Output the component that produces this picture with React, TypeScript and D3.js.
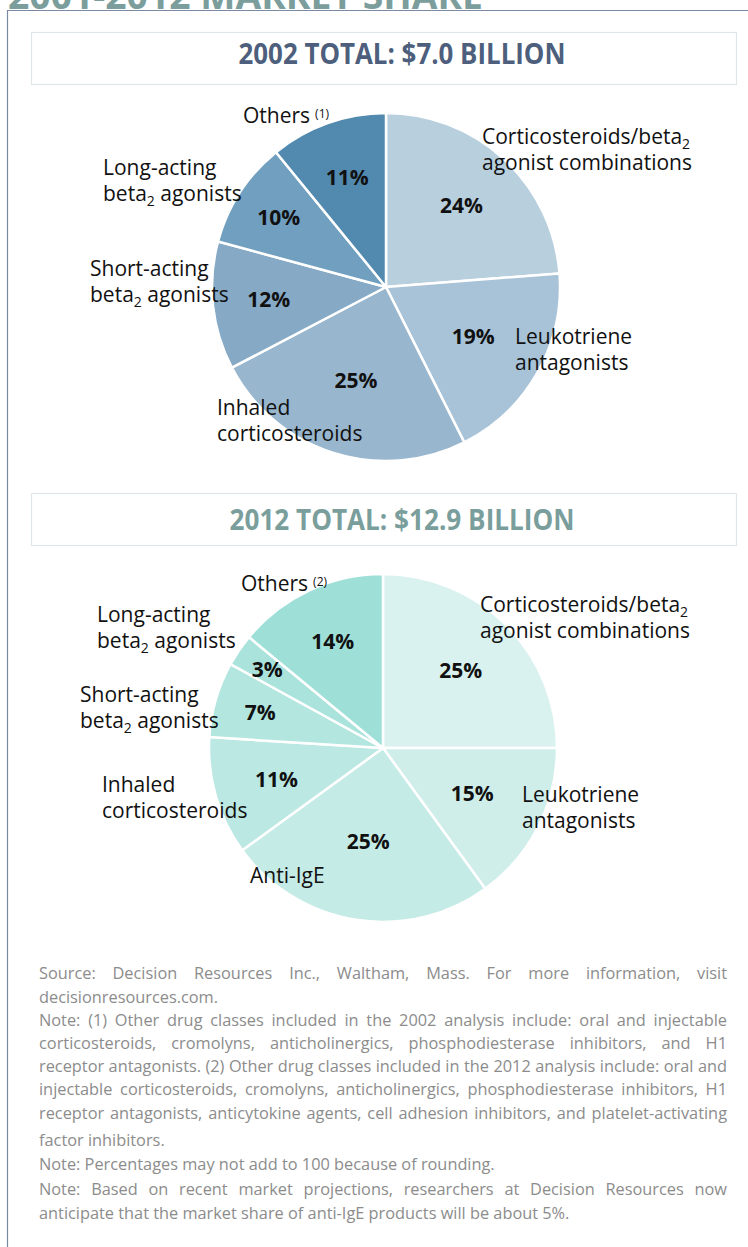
import React, { useEffect, useRef } from "react";
import * as d3 from "d3";

// ---------- DATA ----------
const mainTitle = "2001-2012 MARKET SHARE";
const panelTitles = ["2002 TOTAL: $7.0 BILLION", "2012 TOTAL: $12.9 BILLION"];

const categories2002 = [
  "Corticosteroids/beta2 agonist combinations",
  "Leukotriene antagonists",
  "Inhaled corticosteroids",
  "Short-acting beta2 agonists",
  "Long-acting beta2 agonists",
  "Others",
];
const shares2002 = [24, 19, 25, 12, 10, 11];
const labelLines2002 = [
  ["Corticosteroids/beta_2", "agonist combinations"],
  ["Leukotriene", "antagonists"],
  ["Inhaled", "corticosteroids"],
  ["Short-acting", "beta_2 agonists"],
  ["Long-acting", "beta_2 agonists"],
  ["Others"],
];
const notes2002 = ["", "", "", "", "", "(1)"];

const categories2012 = [
  "Corticosteroids/beta2 agonist combinations",
  "Leukotriene antagonists",
  "Anti-IgE",
  "Inhaled corticosteroids",
  "Short-acting beta2 agonists",
  "Long-acting beta2 agonists",
  "Others",
];
const shares2012 = [25, 15, 25, 11, 7, 3, 14];
const labelLines2012 = [
  ["Corticosteroids/beta_2", "agonist combinations"],
  ["Leukotriene", "antagonists"],
  ["Anti-IgE"],
  ["Inhaled", "corticosteroids"],
  ["Short-acting", "beta_2 agonists"],
  ["Long-acting", "beta_2 agonists"],
  ["Others"],
];
const notes2012 = ["", "", "", "", "", "", "(2)"];

const footnoteLines = [
  "Source: Decision Resources Inc., Waltham, Mass. For more information, visit",
  "decisionresources.com.",
  "Note: (1) Other drug classes included in the 2002 analysis include: oral and injectable",
  "corticosteroids, cromolyns, anticholinergics, phosphodiesterase inhibitors, and H1",
  "receptor antagonists. (2) Other drug classes included in the 2012 analysis include: oral and",
  "injectable corticosteroids, cromolyns, anticholinergics, phosphodiesterase inhibitors, H1",
  "receptor antagonists, anticytokine agents, cell adhesion inhibitors, and platelet-activating",
  "factor inhibitors.",
  "Note: Percentages may not add to 100 because of rounding.",
  "Note: Based on recent market projections, researchers at Decision Resources now",
  "anticipate that the market share of anti-IgE products will be about 5%.",
];
const footnoteJustified = [true, false, true, true, true, true, true, false, false, true, false];

// ---------- STYLE / LAYOUT ----------
const W = 748;
const H = 1247;
const colors2002 = ["#b8cfde", "#a8c3d7", "#98b6cd", "#86aac5", "#709fc0", "#5289ae"];
const colors2012 = ["#d9f2ef", "#cfeeea", "#c5ebe6", "#bbe8e2", "#b2e6df", "#a9e3dc", "#9ee0d8"];
const labelFont = "'Open Sans', 'Noto Sans', sans-serif";

const pies = [
  {
    cx: 386, cy: 287, r: 174,
    categories: categories2002, shares: shares2002, colors: colors2002,
    lines: labelLines2002, notes: notes2002,
    labelPos: [[482, 144], [515, 344], [217, 415], [90, 276], [103, 175], [243, 123]],
    pctRadius: [111, 100, 98, 118, 128, 116],
    titleY: 32, titleColor: "#4d5f7c", titleCenter: 402, titleBase: 64, titleWidth: 327,
  },
  {
    cx: 383, cy: 748, r: 174,
    categories: categories2012, shares: shares2012, colors: colors2012,
    lines: labelLines2012, notes: notes2012,
    labelPos: [[480, 612], [522, 802], [250, 883], [102, 792], [80, 702], [97, 622], [241, 591]],
    pctRadius: [110, 100, 95, 111, 128, 140, 118],
    titleY: 493, titleColor: "#7a9e9c", titleCenter: 402, titleBase: 530, titleWidth: 345,
  },
];
const footBaselines = [979, 1003, 1026, 1049, 1072, 1095, 1119, 1146, 1170, 1195, 1219];
const footX = 39;
const footRight = 727;
const footTargetLast = 456; // width of the "Percentages" line in the reference

function addLabelLine(textSel: any, line: string) {
  const parts = line.split("_2");
  textSel.append("tspan").text(parts[0]);
  if (parts.length > 1) {
    textSel.append("tspan").attr("font-size", 14).attr("dy", 5).text("2");
    textSel.append("tspan").attr("dy", -5).text(parts[1]);
  }
}

export default function App() {
  const ref = useRef<SVGSVGElement | null>(null);

  useEffect(() => {
    const svg = d3.select(ref.current);
    svg.selectAll("*").remove();

    svg.append("rect").attr("width", W).attr("height", H).attr("fill", "#ffffff");

    // main title (cut off at top)
    svg.append("text")
      .attr("x", 8).attr("y", 9)
      .attr("font-family", labelFont).attr("font-weight", 700)
      .attr("font-size", 38).attr("fill", "#7b9e9c")
      .attr("textLength", 475).attr("lengthAdjust", "spacingAndGlyphs")
      .text(mainTitle);

    // frame
    svg.append("line").attr("x1", 7).attr("x2", W).attr("y1", 10.5).attr("y2", 10.5)
      .attr("stroke", "#7a8aa2").attr("stroke-width", 1.2);
    svg.append("line").attr("x1", 7.5).attr("x2", 7.5).attr("y1", 10).attr("y2", H)
      .attr("stroke", "#7a8aa2").attr("stroke-width", 1.2);

    pies.forEach((p, pi) => {
      // title box
      svg.append("rect").attr("x", 31.5).attr("y", p.titleY + 0.5)
        .attr("width", 705).attr("height", 52)
        .attr("fill", "#ffffff").attr("stroke", "#dfe5e8").attr("stroke-width", 1.2);
      svg.append("text")
        .attr("x", p.titleCenter).attr("y", p.titleBase)
        .attr("text-anchor", "middle")
        .attr("font-family", labelFont).attr("font-weight", 700)
        .attr("font-size", 29).attr("fill", p.titleColor)
        .attr("textLength", p.titleWidth).attr("lengthAdjust", "spacingAndGlyphs")
        .text(panelTitles[pi]);

      const data = p.shares.map((v, i) => ({ v, i }));
      const pie = d3.pie<any>().value((d: any) => d.v).sort(null);
      const arcs = pie(data);
      const arc = d3.arc<any>().innerRadius(0).outerRadius(p.r);
      const g = svg.append("g").attr("transform", `translate(${p.cx},${p.cy})`);
      g.selectAll("path.slice").data(arcs).enter().append("path")
        .attr("class", "slice")
        .attr("d", arc as any)
        .attr("fill", (d: any) => p.colors[d.data.i])
        .attr("stroke", "#ffffff").attr("stroke-width", 2.5).attr("stroke-linejoin", "round");

      // percentages
      arcs.forEach((a: any) => {
        const rr = p.pctRadius[a.data.i];
        const la = d3.arc<any>().innerRadius(rr).outerRadius(rr);
        const [x, y] = la.centroid(a);
        g.append("text")
          .attr("x", x).attr("y", y).attr("dy", "0.36em")
          .attr("text-anchor", "middle")
          .attr("font-family", labelFont).attr("font-weight", 700)
          .attr("font-size", 21).attr("fill", "#111111")
          .text(`${a.data.v}%`);
      });

      // category labels
      p.lines.forEach((lines, i) => {
        const [lx, ly] = p.labelPos[i];
        lines.forEach((line, li) => {
          const t = svg.append("text")
            .attr("x", lx).attr("y", ly + li * 26)
            .attr("font-family", labelFont).attr("font-size", 21)
            .attr("fill", "#111111");
          addLabelLine(t, line);
          if (li === 0 && p.notes[i]) {
            t.append("tspan").attr("font-size", 12).attr("dy", -5).attr("dx", 5).text(p.notes[i]);
          }
        });
      });
    });

    // footnotes
    const fg = svg.append("g");
    const measure = (s: string) => {
      const t = fg.append("text").attr("font-family", labelFont).attr("font-size", 16).text(s);
      const w = (t.node() as SVGTextElement).getComputedTextLength();
      t.remove();
      return w;
    };
    const refW = measure(footnoteLines[8]);
    const sx = footTargetLast / refW;
    fg.attr("transform", `translate(${footX},0) scale(${sx},1)`);
    const targetW = (footRight - footX) / sx;
    footnoteLines.forEach((line, i) => {
      const t = fg.append("text")
        .attr("y", footBaselines[i])
        .attr("font-family", labelFont).attr("font-size", 16)
        .attr("fill", "#8c8c8c");
      if (!footnoteJustified[i]) {
        t.attr("x", 0).text(line);
        return;
      }
      const words = line.split(" ");
      const widths = words.map(measure);
      const total = widths.reduce((a, b) => a + b, 0);
      const gap = (targetW - total) / (words.length - 1);
      let x = 0;
      words.forEach((w, wi) => {
        t.append("tspan").attr("x", x).text(w);
        x += widths[wi] + gap;
      });
    });
  }, []);

  return (
    <div style={{ position: "absolute", left: 0, top: 0, width: W, height: H }}>
      <svg ref={ref} width={W} height={H} style={{ display: "block" }} />
    </div>
  );
}
